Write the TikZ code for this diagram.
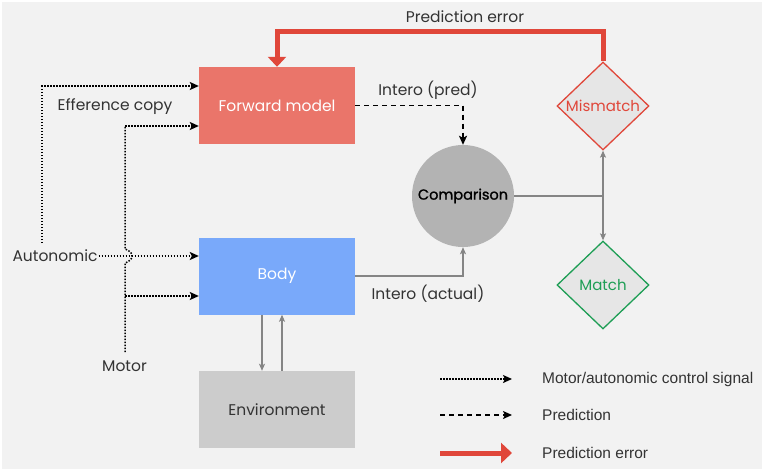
\documentclass[tikz,border=0pt]{standalone}
\usepackage{fontspec}
\setmainfont{Poppins}
\newfontfamily\legendfont{Liberation Sans}
\newfontfamily\compfont[FakeBold=1.2]{Poppins}
\usetikzlibrary{arrows.meta,shapes.geometric}
\definecolor{bg}{HTML}{F2F2F2}
\definecolor{fmred}{HTML}{EA756A}
\definecolor{bodyblue}{HTML}{79A9FA}
\definecolor{envgray}{HTML}{CCCCCC}
\definecolor{compgray}{HTML}{B3B3B3}
\definecolor{errred}{HTML}{E0473A}
\definecolor{okgreen}{HTML}{1E9E55}
\definecolor{diafill}{HTML}{E6E6E6}
\definecolor{txt}{HTML}{333333}
\definecolor{linegray}{HTML}{858585}
\tikzset{
  box/.style={minimum width=156pt, minimum height=77pt, inner sep=0pt, font=\fontsize{15.5}{17}\selectfont},
  dia/.style={diamond, fill=diafill, line width=1.3pt, minimum width=92pt, minimum height=88pt, inner sep=0pt, font=\fontsize{15}{17}\selectfont},
  lbl/.style={text=txt, font=\fontsize{15.5}{17}\selectfont, inner sep=1pt},
  legtxt/.style={text=txt, font=\legendfont\fontsize{15.5}{17}\selectfont, anchor=west, inner sep=0pt},
  ctrl/.style={line width=1.5pt, dash pattern=on 1.5pt off 1.5pt, -{Stealth[length=9pt,width=8pt,inset=2pt]}},
  ctrlnt/.style={line width=1.5pt, dash pattern=on 1.5pt off 1.5pt},
  pred/.style={line width=1.5pt, dash pattern=on 5pt off 4pt, -{Stealth[length=9pt,width=8pt,inset=2pt]}},
  gline/.style={draw=linegray, line width=1.2pt},
  garrow/.style={gline, -{Stealth[length=7pt,width=6pt,inset=1.5pt]}},
  err/.style={draw=errred, line width=5pt, -{Triangle[length=10pt,width=18pt]}},
}
\begin{document}
\begin{tikzpicture}[x=1pt,y=-1pt]
\fill[white] (0,0) rectangle (764,471);
\fill[bg] (2,2) rectangle (762,469);
\useasboundingbox (0,0) rectangle (764,471);

% main boxes
\node[box, fill=fmred, text=white] (fm) at (277,105.5) {Forward model};
\node[box, fill=bodyblue, text=white] (body) at (277,276) {Body};
\node[box, fill=envgray, text=txt] (env) at (277,409.5) {Environment};
\node[circle, fill=compgray, minimum size=102pt, inner sep=0pt, text=black, font=\compfont\fontsize{14.5}{16}\selectfont] (comp) at (463,196) {Comparison};
\node[dia, draw=errred, text=errred] (mis) at (603,106) {Mismatch};
\node[dia, draw=okgreen, text=okgreen] (match) at (603,285) {Match};

% labels
\node[lbl] (auto) at (55,256) {Autonomic};
\node[lbl] (motor) at (124.5,366.5) {Motor};
\node[lbl] (eff) at (115,106.5) {Efference copy};
\node[lbl] (ipred) at (428,90.5) {Intero (pred)};
\node[lbl] (iact) at (428,293.5) {Intero (actual)};
\node[lbl] (perr) at (465,16.5) {Prediction error};

% prediction error loop
\draw[err] (mis.north) -- (mis.north |- 0,31) -- (fm.north |- 0,31) -- (fm.north);

% prediction (dashed)
\draw[pred] (fm.east) -- (comp.north |- fm.east) -- (comp.north);

% intero actual
\draw[garrow] (body.east) -- (comp.south |- body.east) -- (comp.south);

% comparison to outcomes
\coordinate (split) at (603,196);
\draw[gline] (comp.east) -- (split);
\draw[garrow] (split) -- (mis.south);
\draw[garrow] (split) -- (match.north);

% body <-> environment
\draw[garrow] ([xshift=-15pt]body.south) -- ([xshift=-15pt]env.north);
\draw[garrow] ([xshift=5pt]env.north) -- ([xshift=5pt]body.south);

% autonomic
\coordinate (autoup) at (42,243);
\coordinate (bodyin1) at ([yshift=20pt]body.west);
\draw[ctrl] (autoup) -- (42,86) -- ([yshift=19.5pt]fm.west);
\draw[ctrl] (bodyin1 -| auto.east) -- (bodyin1);

% motor
\coordinate (motortop) at (125,352);
\draw[ctrlnt] (motortop) -- (125,263) .. controls (129,262) and (133,258) .. (132,256) .. controls (133,254) and (129,250) .. (125,249) -- (125,126);
\draw[ctrl] (125,126) -- ([yshift=-20.5pt]fm.west);
\draw[ctrl] (125,296) -- ([yshift=-20pt]body.west);

% legend
\coordinate (l1a) at (440,379); \coordinate (l1b) at (512,379);
\coordinate (l2a) at (440,415); \coordinate (l2b) at (512,415);
\coordinate (l3a) at (440,453); \coordinate (l3b) at (512,453);
\draw[ctrl] (l1a) -- (l1b);
\draw[pred] (l2a) -- (l2b);
\draw[err, -{Triangle[length=11pt,width=20pt]}] (l3a) -- (l3b);
\node[legtxt] (t1) at (542,379) {Motor/autonomic control signal};
\node[legtxt] (t2) at (542,415) {Prediction};
\node[legtxt] (t3) at (542,453) {Prediction error};
\end{tikzpicture}
\end{document}
